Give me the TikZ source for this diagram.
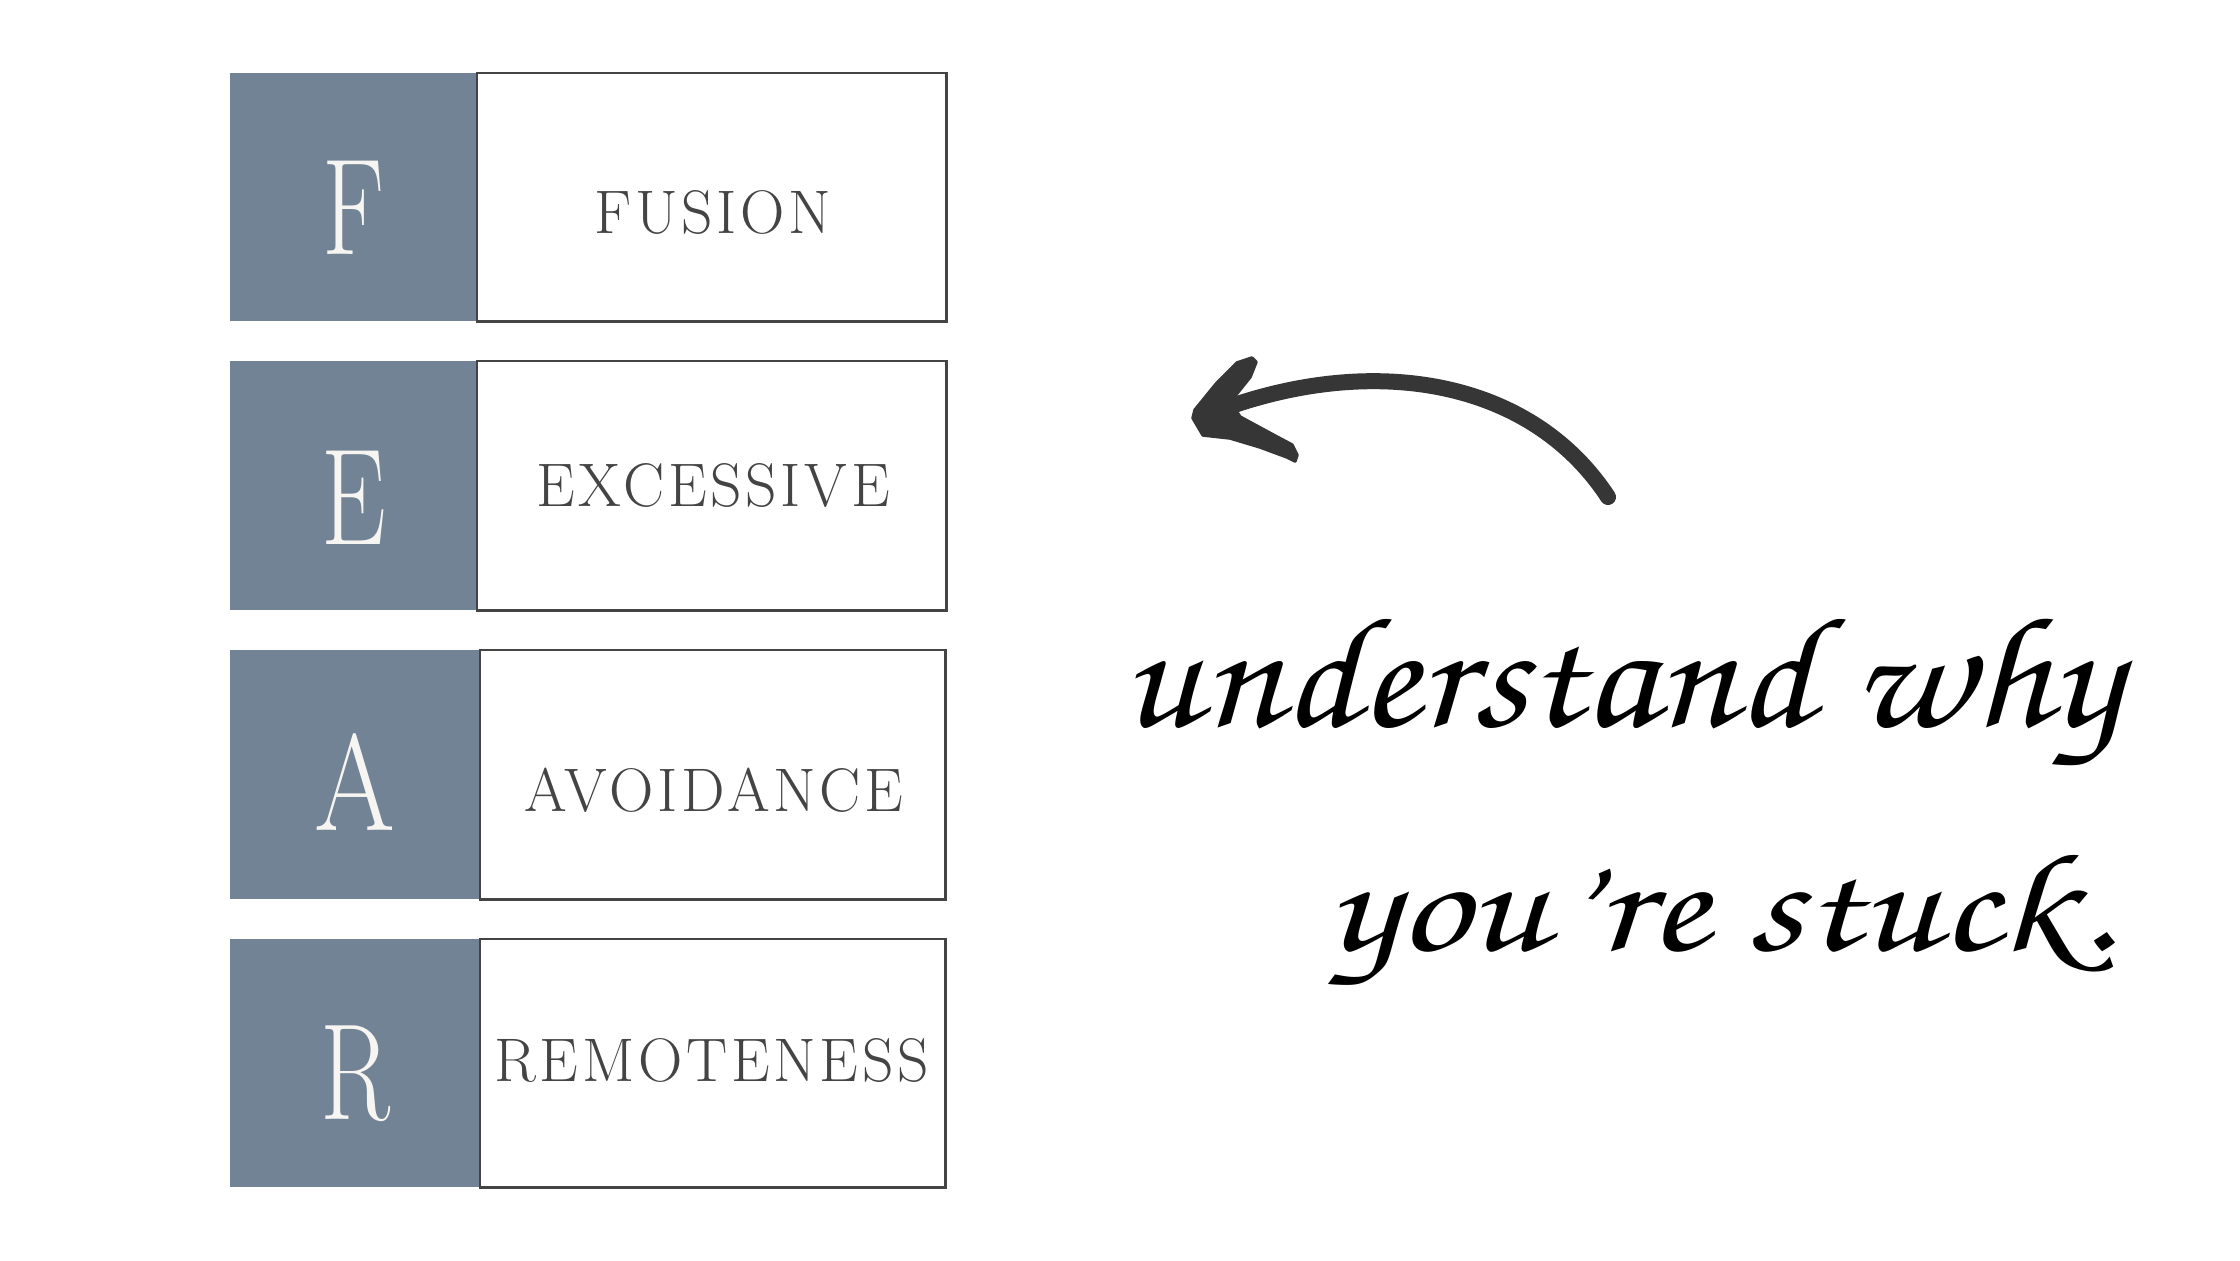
\documentclass[tikz,border=0pt]{standalone}
\usepackage[T1]{fontenc}
\usepackage{fontspec}
\setmainfont{Latin Modern Roman}
\usepackage{graphicx}
\definecolor{slate}{HTML}{728395}
\definecolor{ink}{HTML}{444444}
\definecolor{arrowink}{HTML}{363636}
\definecolor{paper}{HTML}{F7F5F2}
\newcommand{\handfnt}{\fontencoding{T1}\fontfamily{pzc}\fontseries{mb}\fontshape{it}\selectfont}
\tikzset{
  bluebox/.style={fill=slate, draw=none, inner sep=0, outer sep=0, anchor=north west},
  whitebox/.style={fill=white, draw=ink, line width=0.8pt, inner sep=0, outer sep=0, anchor=north west},
  lettertxt/.style={text=paper, inner sep=0, anchor=base, font=\fontsize{39}{39}\selectfont},
  labeltxt/.style={text=ink, inner sep=0, anchor=base, font=\fontsize{17.5}{18}\selectfont\addfontfeatures{LetterSpace=6}},
  handtxt/.style={text=black, inner sep=0, anchor=base west},
  arrowstroke/.style={draw=arrowink, line width=0.16cm, line cap=round},
  arrowheadfill/.style={fill=arrowink, draw=arrowink, line width=1pt, line join=round}
}
\begin{document}
\begin{tikzpicture}[x=0.01cm, y=-0.01cm]
\useasboundingbox[fill=white] (0,0) rectangle (2240,1260);
% F row
\node[bluebox, minimum width=2.47cm, minimum height=2.48cm] (bF) at (230,73) {};
\node[whitebox, minimum width=4.69cm, minimum height=2.48cm] (wF) at (477,73) {};
\node[lettertxt] (lF) at (353.5,254) {\scalebox{0.75}[1]{F}};
\node[labeltxt] (tF) at (713,233) {FUSION};
% E row
\node[bluebox, minimum width=2.47cm, minimum height=2.49cm] (bE) at (230,361) {};
\node[whitebox, minimum width=4.69cm, minimum height=2.49cm] (wE) at (477,361) {};
\node[lettertxt] (lE) at (353.5,544) {\scalebox{0.75}[1]{E}};
\node[labeltxt] (tE) at (713,506) {EXCESSIVE};
% A row
\node[bluebox, minimum width=2.50cm, minimum height=2.49cm] (bA) at (230,650) {};
\node[whitebox, minimum width=4.65cm, minimum height=2.49cm] (wA) at (480,650) {};
\node[lettertxt] (lA) at (355,830) {\scalebox{0.85}[1]{A}};
\node[labeltxt] (tA) at (714,811) {AVOIDANCE};
% R row
\node[bluebox, minimum width=2.50cm, minimum height=2.48cm] (bR) at (230,939) {};
\node[whitebox, minimum width=4.65cm, minimum height=2.48cm] (wR) at (480,939) {};
\node[lettertxt] (lR) at (355,1119) {\scalebox{0.75}[1]{R}};
\node[labeltxt] (tR) at (711.5,1081) {REMOTENESS};
% arrow
\coordinate (atail) at (1608,497);
\coordinate (ahead) at (1212,413);
\draw[arrowstroke] (atail) .. controls (1530,378) and (1370,352) .. (ahead);
\fill[arrowheadfill] (1230,402) -- (1250,377) -- (1256,362) -- (1252,358) -- (1237,363)
  -- (1217,383) -- (1195,410) -- (1193,418) -- (1203,435) -- (1230,438) -- (1260,447)
  -- (1287,457) -- (1295,461) -- (1297,455) -- (1292,445) -- (1277,437) -- (1240,417) -- cycle;
% handwriting
\node[handtxt] (h1) at (1121,726) {\resizebox{284pt}{32pt}{\handfnt understand why}};
\node[handtxt] (h2) at (1326,950) {\resizebox{224pt}{28.5pt}{\handfnt you're stuck.}};
\end{tikzpicture}
\end{document}
